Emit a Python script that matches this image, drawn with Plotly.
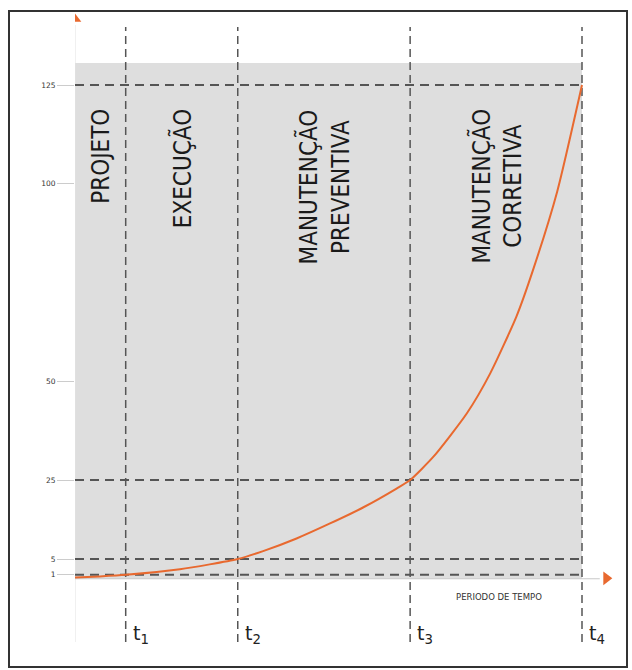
import plotly.graph_objects as go

# ---------------- data ----------------
phase_times = [1.0, 3.21, 6.61, 10.0]          # t1..t4
phase_costs = [1, 5, 25, 125]                   # cost reached at t1..t4
time_labels = ["t<sub>1</sub>", "t<sub>2</sub>", "t<sub>3</sub>", "t<sub>4</sub>"]
phase_names = ["PROJETO", "EXECUÇÃO", "MANUTENÇÃO<br>PREVENTIVA", "MANUTENÇÃO<br>CORRETIVA"]
y_ticks = [1, 5, 25, 50, 100, 125]
curve_x = [0, 0.49, 1.0, 2.07, 3.21, 3.71, 4.37, 5.03, 5.69, 6.35, 6.61,
           7.07, 7.73, 8.19, 8.71, 9.03, 9.51, 10.0]
curve_y = [0.3, 0.6, 1, 2.4, 5, 7.0, 10.2, 14.0, 18.1, 22.9, 25,
           30.9, 41.9, 52.0, 66.5, 78.0, 98.0, 125]

# ---------------- style ----------------
ORANGE = "#E8692F"
DASH = "#555555"
BG = "#DEDEDE"
W, H = 632, 670
ML, MR, MT, MB = 75, 12, 10, 20
PXX = 50.7     # px per x unit
PXY = 3.95     # px per y unit
Y0PX = 578.75  # pixel row of y = 0
pw, ph = W - ML - MR, H - MT - MB
x_range = [0, pw / PXX]
y_range = [(Y0PX - (H - MB)) / PXY, (Y0PX - MT) / PXY]


def yv(py):
    return (Y0PX - py) / PXY


fig = go.Figure()

shapes = []
# grey background
shapes.append(dict(type="rect", xref="x", yref="y", x0=0, x1=phase_times[-1], y0=0, y1=yv(63),
                   fillcolor=BG, line=dict(width=0), layer="below"))
# faint axes
shapes.append(dict(type="line", xref="x", yref="y", x0=0, x1=0, y0=yv(642), y1=yv(25),
                   line=dict(color="#E2E2E2", width=1), layer="below"))
shapes.append(dict(type="line", xref="x", yref="y", x0=0, x1=10.35, y0=0, y1=0,
                   line=dict(color="#C8C8C8", width=1), layer="below"))
# horizontal dashed guides
for c in phase_costs:
    shapes.append(dict(type="line", xref="x", yref="y", x0=0, x1=phase_times[-1], y0=c, y1=c,
                       line=dict(color=DASH, width=2, dash="9px,6px"), layer="below"))
# vertical dashed guides
for t in phase_times:
    shapes.append(dict(type="line", xref="x", yref="y", x0=t, x1=t, y0=yv(642), y1=yv(27),
                       line=dict(color=DASH, width=1.5, dash="8px,5px"), layer="below"))
# outer frame
shapes.append(dict(type="rect", xref="paper", yref="paper",
                   x0=(9 - ML) / pw, x1=(627 - ML) / pw,
                   y0=(H - MB - 667) / ph, y1=(H - MB - 11) / ph,
                   line=dict(color="#333333", width=2), fillcolor="rgba(0,0,0,0)"))

# curve
fig.add_trace(go.Scatter(x=curve_x, y=curve_y, mode="lines",
                         line=dict(color=ORANGE, width=2, shape="spline", smoothing=0.6),
                         hoverinfo="skip", showlegend=False))
# axis arrows
fig.add_trace(go.Scatter(x=[0], y=[yv(19)], mode="markers",
                         marker=dict(symbol="triangle-up", size=11, color=ORANGE),
                         hoverinfo="skip", showlegend=False))
fig.add_trace(go.Scatter(x=[10.48], y=[0.1], mode="markers",
                         marker=dict(symbol="triangle-right", size=12, color=ORANGE),
                         hoverinfo="skip", showlegend=False))

ann = []
# phase names (rotated)
starts = [0] + phase_times[:-1]
for s, e, name in zip(starts, phase_times, phase_names):
    ann.append(dict(x=(s + e) / 2, y=yv(107), xref="x", yref="y", text=name,
                    textangle=-90, showarrow=False, xanchor="center", yanchor="top",
                    align="center",
                    font=dict(family="DejaVu Sans Condensed, Liberation Sans Narrow, Liberation Sans",
                              size=24, color="#1A1A1A")))
# t labels
for t, lab in zip(phase_times, time_labels):
    ann.append(dict(x=t + 5 / PXX, y=yv(634), xref="x", yref="y", text=lab,
                    showarrow=False, xanchor="left", yanchor="middle",
                    font=dict(family="DejaVu Sans", size=19, color="#222222")))
# x axis title
ann.append(dict(x=(499 - ML) / PXX, y=yv(597), xref="x", yref="y", text="PERIODO DE TEMPO",
                showarrow=False, xanchor="center", yanchor="middle",
                font=dict(family="DejaVu Sans", size=8.5, color="#333333")))
# y axis title
ann.append(dict(x=-5 / PXX, y=yv(46), xref="x", yref="y",
                text="Custo<br>relativo da<br>intervenção",
                showarrow=False, xanchor="right", yanchor="middle", align="right",
                font=dict(family="DejaVu Sans", size=8.5, color="#444444")))

fig.update_layout(
    width=W, height=H, margin=dict(l=ML, r=MR, t=MT, b=MB),
    paper_bgcolor="white", plot_bgcolor="white",
    shapes=shapes, annotations=ann, showlegend=False,
    xaxis=dict(range=x_range, visible=False, fixedrange=True),
    yaxis=dict(range=y_range, tickvals=y_ticks, ticktext=[str(v) for v in y_ticks],
               ticks="outside", ticklen=17, tickcolor="#CCCCCC", tickwidth=1,
               showgrid=False, zeroline=False, showline=False,
               tickfont=dict(family="DejaVu Sans", size=7.5, color="#333333"),
               fixedrange=True),
)

fig.write_html("out.html", config={"displayModeBar": False},
               post_script="document.body.style.margin='0';document.body.style.overflow='hidden';")
